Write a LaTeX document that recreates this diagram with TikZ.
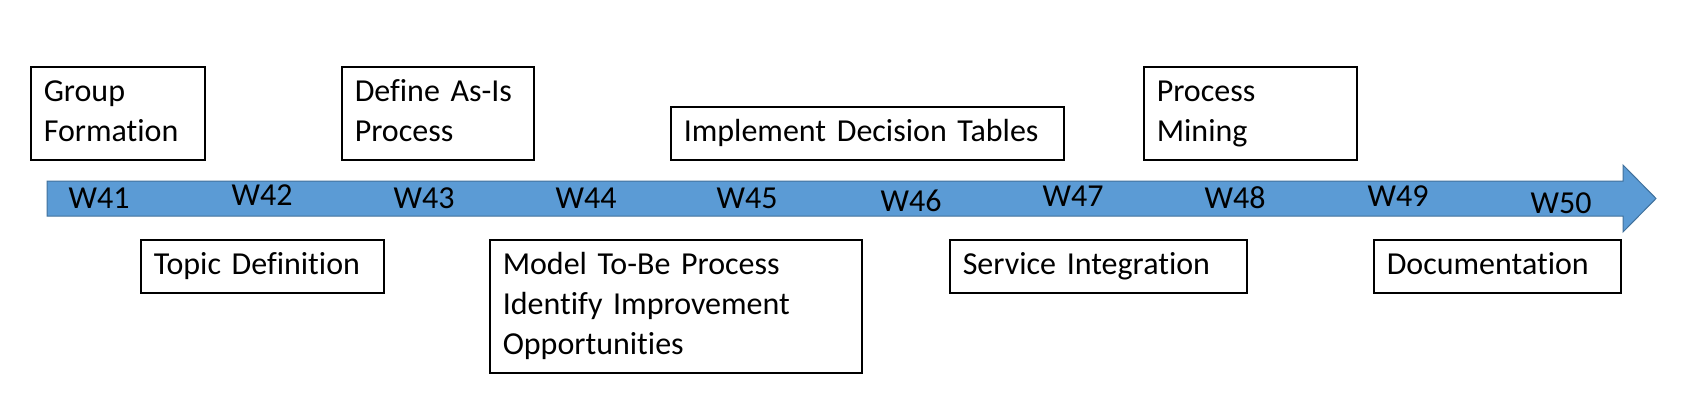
\documentclass[tikz,border=0pt]{standalone}
\usepackage{fontspec}
\setmainfont[Ligatures=NoCommon]{Carlito}

\definecolor{timeblue}{HTML}{5B9BD5}
\definecolor{timeedge}{HTML}{41719C}

\tikzset{
  task/.style={draw=black, line width=1.5pt, anchor=north west, align=left,
    inner xsep=13pt, inner ysep=6.5pt, font=\fontsize{32}{40}\selectfont},
  week/.style={inner sep=0pt, font=\fontsize{32}{40}\selectfont}
}

\begin{document}
\begin{tikzpicture}[x=1pt, y=-1pt]
  \useasboundingbox (0,0) rectangle (1691,415);

  % Draw the time arrow
  \draw[fill=timeblue, draw=timeedge, line width=1pt, line join=miter]
    (47,181) -- (1623,181) -- (1623,165) -- (1656,198.5) -- (1623,232)
    -- (1623,216) -- (47,216) -- cycle;

  % Week labels
  \foreach \n/\x/\y in {41/99/198, 42/262/195, 43/424/198, 44/586/198,
                        45/747/198, 46/911/201, 47/1073/196, 48/1235/198,
                        49/1398/196, 50/1561/203} {
    \node[week] (w\n) at (\x,\y) {W\n};
  }

  % Tasks above the arrow
  \node[task, text width=148pt] (group) at (30,66) {\strut Group\\Formation\strut};
  \node[task, text width=166pt] (asis) at (341,66) {\strut Define As-Is\\Process\strut};
  \node[task, text width=367pt] (tables) at (670,106) {\strut Implement Decision Tables\strut};
  \node[task, text width=187pt] (mining) at (1143,66) {\strut Process\\Mining\strut};

  % Tasks below the arrow
  \node[task, text width=217pt] (topic) at (140,239) {\strut Topic Definition\strut};
  \node[task, text width=346pt] (tobe) at (489,239)
    {\strut Model To-Be Process\\Identify Improvement\\Opportunities\strut};
  \node[task, text width=271pt] (service) at (949,239) {\strut Service Integration\strut};
  \node[task, text width=221pt] (docs) at (1373,239) {\strut Documentation\strut};

\end{tikzpicture}
\end{document}
